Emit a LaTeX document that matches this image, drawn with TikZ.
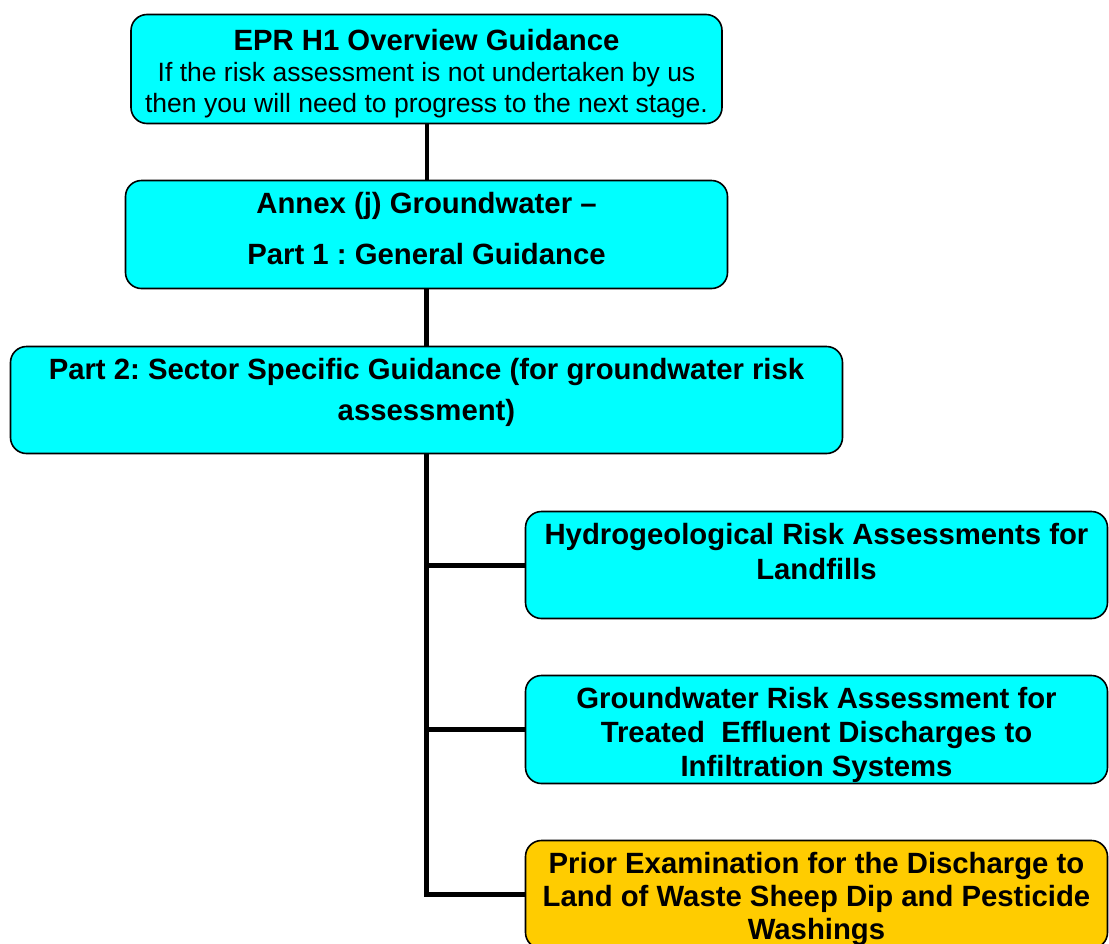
\documentclass[tikz,border=0pt]{standalone}
\usepackage{fontspec}
\setmainfont{Liberation Sans}
\usetikzlibrary{positioning}
\definecolor{guidecyan}{HTML}{00FFFF}
\definecolor{guidegold}{HTML}{FFCC00}
\frenchspacing
\tikzset{
  guidebox/.style={draw=black, line width=1.6pt, rounded corners=16pt,
    fill=guidecyan, inner sep=0pt},
  guidetext/.style={align=center, inner sep=0pt,
    font=\fontsize{29.3}{35}\selectfont\bfseries},
  link/.style={line width=5pt, line join=miter}
}
\begin{document}
\begin{tikzpicture}[x=1pt, y=-1pt]
\clip (0,0) rectangle (1109,943);
\fill[white] (0,0) rectangle (1109,943);

\node[guidebox, minimum width=591pt, minimum height=109pt] (h1) at (426.5,69) {};
\node[guidetext, below=15.5pt of h1.north, font=\fontsize{26.5}{31}\selectfont] (h1t)
  {{\fontsize{29.3}{31}\selectfont\bfseries EPR H1 Overview Guidance}\\
   If the risk assessment is not undertaken by us\\
   then you will need to progress to the next stage.};

\node[guidebox, minimum width=602pt, minimum height=108pt] (gw) at (426.5,234.5) {};
\node[guidetext, below=12.5pt of gw.north] (gwt)
  {Annex (j) Groundwater –\\[16pt] Part 1 : General Guidance};

\node[guidebox, minimum width=832pt, minimum height=107pt] (sec) at (426.5,400) {};
\node[guidetext, below=12pt of sec.north] (sect)
  {Part 2: Sector Specific Guidance (for groundwater risk\\[6pt] assessment)};

\node[guidebox, minimum width=582pt, minimum height=107pt] (land) at (816.5,565) {};
\node[guidetext, below=12pt of land.north] (landt)
  {Hydrogeological Risk Assessments for\\ Landfills};

\node[guidebox, minimum width=582pt, minimum height=108pt] (eff) at (816.5,729.5) {};
\node[guidetext, below=12pt of eff.north, font=\fontsize{29.3}{34}\selectfont\bfseries] (efft)
  {Groundwater Risk Assessment for\\ Treated\ \ Effluent Discharges to\\ Infiltration Systems};

\node[guidebox, fill=guidegold, minimum width=582pt, minimum height=108pt] (dip) at (816.5,894.5) {};
\node[guidetext, below=12pt of dip.north, font=\fontsize{29.3}{33}\selectfont\bfseries] (dipt)
  {Prior Examination for the Discharge to\\ Land of Waste Sheep Dip and Pesticide\\ Washings};

\draw[link, line width=4pt] (h1.south) -- (gw.north);
\draw[link] (gw.south) -- (sec.north);
\draw[link] (sec.south) |- (dip.west);
\draw[link] (sec.south |- land.west) -- (land.west);
\draw[link] (sec.south |- eff.west) -- (eff.west);
\end{tikzpicture}
\end{document}
